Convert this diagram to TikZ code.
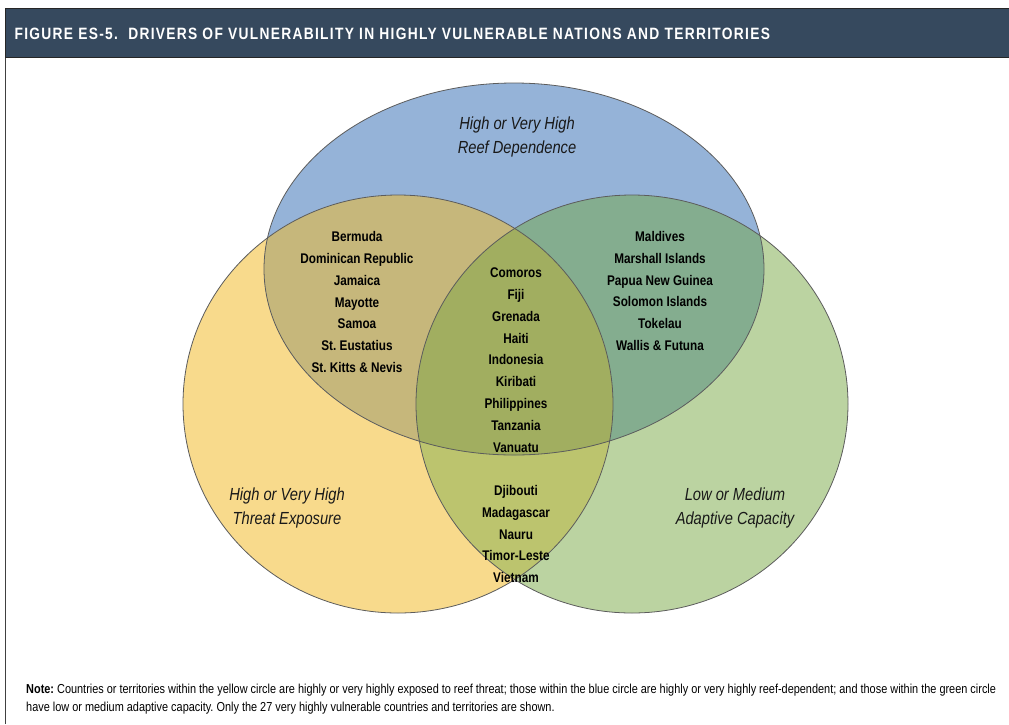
\documentclass[tikz,border=0pt]{standalone}
\usepackage{fontspec}
\setmainfont{Liberation Sans}
\newfontfamily\condfont[FakeStretch=0.84]{Liberation Sans}
\newfontfamily\titlefont[FakeStretch=0.84,LetterSpace=8]{Liberation Sans}
\frenchspacing

\definecolor{barblue}{HTML}{36495E}
\definecolor{ycol}{HTML}{F8DA8C}
\definecolor{bcol}{HTML}{95B3D8}
\definecolor{gcol}{HTML}{BBD3A1}
\definecolor{ybcol}{HTML}{C6B77B}
\definecolor{bgcol}{HTML}{84AD8F}
\definecolor{ygcol}{HTML}{BCC46E}
\definecolor{ybgcol}{HTML}{A1AE60}
\definecolor{rimcol}{HTML}{5C5C5C}

% the three sets
\def\yset{(398,404) ellipse [x radius=215pt, y radius=209pt]}
\def\bset{(514,269) ellipse [x radius=250pt, y radius=186pt]}
\def\gset{(632,404) ellipse [x radius=216pt, y radius=209pt]}

\tikzset{
  names/.style={font=\condfont\bfseries\fontsize{14}{21.8}\selectfont, align=center, text=black},
  setname/.style={font=\condfont\itshape\fontsize{17.5}{23.5}\selectfont, align=center, text=black!90},
}

\begin{document}
\begin{tikzpicture}[x=1pt,y=-1pt]
  \useasboundingbox (0,0) rectangle (1009,724);
  \fill[white] (0,0) rectangle (1009,724);

  % frame and title bar
  \draw[black!75, line width=0.8pt] (5,724) -- (5,57);
  \fill[barblue, draw=black!85, line width=0.8pt] (5,8) rectangle (1012,57);
  \node[anchor=west, text=white, font=\titlefont\bfseries\fontsize{16.4}{18}\selectfont]
    (title) at (11,34) {FIGURE ES-5.\ \ DRIVERS OF VULNERABILITY IN HIGHLY VULNERABLE NATIONS AND TERRITORIES};

  % plain fills
  \fill[ycol] \yset;
  \fill[gcol] \gset;
  \fill[bcol] \bset;
  % overlaps
  \begin{scope}
    \clip \yset;
    \fill[ybcol] \bset;
    \fill[ygcol] \gset;
  \end{scope}
  \begin{scope}
    \clip \bset;
    \fill[bgcol] \gset;
    \clip \gset;
    \fill[ybgcol] \yset;
  \end{scope}
  % outlines
  \begin{scope}[rimcol, line width=0.8pt]
    \draw \bset;
    \draw \yset;
    \draw \gset;
  \end{scope}

  % set labels
  \node[setname] (reef) at (517,137) {High or Very High\\Reef Dependence};
  \node[setname] (threat) at (287,508) {High or Very High\\Threat Exposure};
  \node[setname] (capacity) at (735,508) {Low or Medium\\Adaptive Capacity};

  % countries in each overlap
  \node[names] (yb) at (357,302) {Bermuda\\Dominican Republic\\Jamaica\\Mayotte\\Samoa\\St. Eustatius\\St. Kitts \& Nevis};
  \node[names] (ybg) at (516,360) {Comoros\\Fiji\\Grenada\\Haiti\\Indonesia\\Kiribati\\Philippines\\Tanzania\\Vanuatu};
  \node[names] (bg) at (660,291) {Maldives\\Marshall Islands\\Papua New Guinea\\Solomon Islands\\Tokelau\\Wallis \& Futuna};
  \node[names] (yg) at (516,534) {Djibouti\\Madagascar\\Nauru\\Timor-Leste\\Vietnam};

  % note
  \node[anchor=north west, align=left, inner sep=0pt, text=black,
        font=\condfont\fontsize{13}{18}\selectfont] (note) at (26,684)
    {\textbf{Note:} Countries or territories within the yellow circle are highly or very highly exposed to reef threat; those within the blue circle are highly or very highly reef-dependent; and those within the green circle\\
     have low or medium adaptive capacity. Only the 27 very highly vulnerable countries and territories are shown.};
\end{tikzpicture}
\end{document}
